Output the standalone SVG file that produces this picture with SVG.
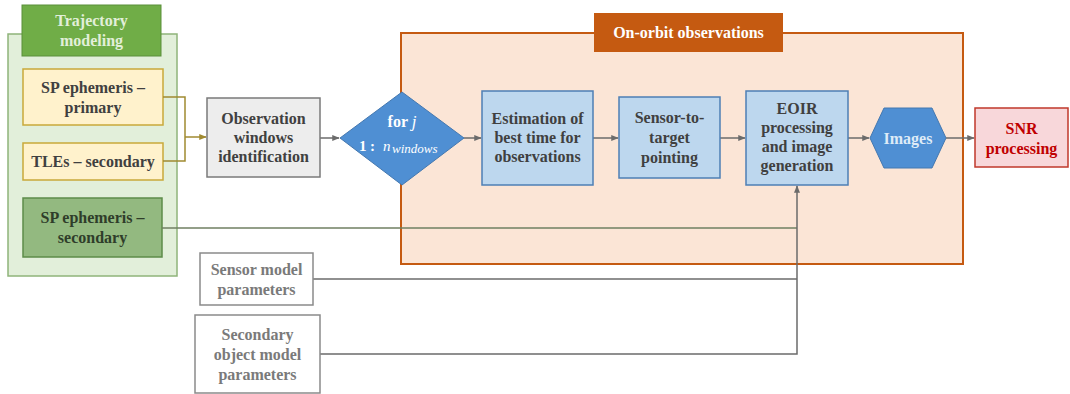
<svg xmlns="http://www.w3.org/2000/svg" width="1070" height="394" viewBox="0 0 1070 394">
<style>
text{font-family:'Liberation Serif','DejaVu Serif',serif;font-weight:700;font-size:16px;text-anchor:middle;fill:#404040}
.w{fill:#ffffff}
.lg{fill:#e2efda}
.g{fill:#7a7a7a}
.red{fill:#c00000}
.m{font-style:italic;font-weight:400}
.c{fill:none;stroke:#6b6b6b;stroke-width:1.5}
</style>
<defs>
<marker id="a" viewBox="0 0 10 10" refX="9" refY="5" markerWidth="5" markerHeight="5" orient="auto"><path d="M0,1 L10,5 L0,9 z" fill="#6b6b6b"/></marker>
<marker id="ao" viewBox="0 0 10 10" refX="9" refY="5" markerWidth="5" markerHeight="5" orient="auto"><path d="M0,1 L10,5 L0,9 z" fill="#a08a30"/></marker>
</defs>
<g id="trajectory-group">
<rect x="8" y="34" width="169" height="242" fill="#e2efda" stroke="#8fb47a" stroke-width="1.5"/>
<rect x="22" y="5" width="139" height="51" fill="#70ad47" stroke="#5a8f3a" stroke-width="1"/>
<text class="lg" x="91.5" y="26">Trajectory</text>
<text class="lg" x="91.5" y="46">modeling</text>
</g>
<g id="sp-primary">
<rect x="23" y="69" width="140" height="56" fill="#fff2cc" stroke="#c9a93a" stroke-width="1.5"/>
<text x="93" y="93">SP ephemeris –</text>
<text x="93" y="113">primary</text>
</g>
<g id="tles">
<rect x="23" y="143" width="140" height="37" fill="#fff2cc" stroke="#c9a93a" stroke-width="1.5"/>
<text x="93" y="167">TLEs – secondary</text>
</g>
<g id="sp-secondary">
<rect x="23" y="198" width="139" height="59" fill="#93b980" stroke="#5d8c49" stroke-width="1.5"/>
<text x="92.5" y="223" style="fill:#2f3d2a">SP ephemeris –</text>
<text x="92.5" y="243" style="fill:#2f3d2a">secondary</text>
</g>
<g id="onorbit">
<rect x="401" y="33" width="562" height="231" fill="#fbe5d6" stroke="#c55a11" stroke-width="2"/>
<rect x="594" y="13" width="189" height="39" fill="#c55a11"/>
<text class="w" x="688.5" y="38">On-orbit observations</text>
</g>
<g id="connectors">
<path d="M163,97 H185 V161 H163" fill="none" stroke="#a08a30" stroke-width="1.5"/>
<path d="M185,137 H206" fill="none" stroke="#a08a30" stroke-width="1.5" marker-end="url(#ao)"/>
<path class="c" d="M320,138 H339" marker-end="url(#a)"/>
<path class="c" d="M464,138 H481" marker-end="url(#a)"/>
<path class="c" d="M593,138 H618" marker-end="url(#a)"/>
<path class="c" d="M720,138 H745" marker-end="url(#a)"/>
<path class="c" d="M848,138 H869" marker-end="url(#a)"/>
<path class="c" d="M946,138 H974" marker-end="url(#a)"/>
<path d="M162,228 H797" fill="none" stroke="#6f7f62" stroke-width="1.5"/>
<path class="c" d="M313,279 H797"/>
<path class="c" d="M320,354 H797 V186" marker-end="url(#a)"/>
</g>
<g id="obs-windows">
<rect x="207" y="98" width="113" height="79" fill="#ededed" stroke="#7a7a7a" stroke-width="1.5"/>
<text x="263.5" y="124">Observation</text>
<text x="263.5" y="143">windows</text>
<text x="263.5" y="162">identification</text>
</g>
<g id="loop">
<polygon points="340,138 402,92 464,138 402,185" fill="#4f8fd3" stroke="#4478b0" stroke-width="1"/>
<text class="w" x="402" y="127">for <tspan class="m" style="font-size:17px">j</tspan></text>
<text class="w" style="font-size:15px;text-anchor:start" y="151"><tspan x="359">1</tspan><tspan x="370">:</tspan><tspan class="m" x="383">n</tspan><tspan class="m" x="392" dy="2" style="font-size:13px">windows</tspan></text>
</g>
<g id="estimation">
<rect x="482" y="91" width="111" height="94" fill="#bdd7ee" stroke="#4e7fb5" stroke-width="1.5"/>
<text x="537.5" y="124">Estimation of</text>
<text x="537.5" y="143">best time for</text>
<text x="537.5" y="162">observations</text>
</g>
<g id="pointing">
<rect x="619" y="97" width="101" height="81" fill="#bdd7ee" stroke="#4e7fb5" stroke-width="1.5"/>
<text x="669.5" y="123">Sensor-to-</text>
<text x="669.5" y="143">target</text>
<text x="669.5" y="163">pointing</text>
</g>
<g id="eoir">
<rect x="746" y="91" width="102" height="94" fill="#bdd7ee" stroke="#4e7fb5" stroke-width="1.5"/>
<text x="797" y="114">EOIR</text>
<text x="797" y="133">processing</text>
<text x="797" y="152">and image</text>
<text x="797" y="171">generation</text>
</g>
<g id="images">
<polygon points="870,138 884,108 932,108 946,138 932,168 884,168" fill="#4f8fd3" stroke="#4478b0" stroke-width="1"/>
<text x="908" y="144" style="fill:#deebf7">Images</text>
</g>
<g id="snr">
<rect x="975" y="108" width="93" height="59" fill="#f8d7da" stroke="#c0392b" stroke-width="1.5"/>
<text class="red" x="1021.5" y="134">SNR</text>
<text class="red" x="1021.5" y="154">processing</text>
</g>
<g id="sensor-model">
<rect x="200" y="253" width="113" height="52" fill="#ffffff" stroke="#8a8a8a" stroke-width="1.5"/>
<text class="g" x="256.5" y="275">Sensor model</text>
<text class="g" x="256.5" y="295">parameters</text>
</g>
<g id="secondary-object">
<rect x="195" y="315" width="125" height="78" fill="#ffffff" stroke="#8a8a8a" stroke-width="1.5"/>
<text class="g" x="257.5" y="340">Secondary</text>
<text class="g" x="257.5" y="360">object model</text>
<text class="g" x="257.5" y="380">parameters</text>
</g>
</svg>
